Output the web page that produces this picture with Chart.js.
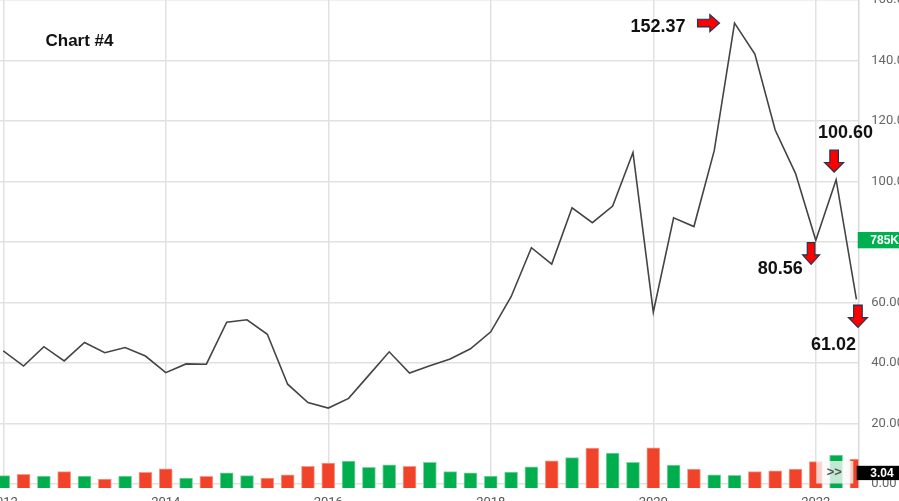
<!DOCTYPE html>
<html>
<head>
<meta charset="utf-8">
<script src="https://cdn.jsdelivr.net/npm/chart.js@4.4.1/dist/chart.umd.min.js"></script>
<style>
html, body { margin: 0; padding: 0; background: #fff; }
#wrap { width: 899px; height: 501px; }
</style>
</head>
<body>
<div id="wrap"><canvas id="priceChart" width="899" height="501"></canvas></div>
<script>
/*
 Chart #4 - quarterly close + volume
*/

var quarters = [
    '2012-Q1', '2012-Q2', '2012-Q3', '2012-Q4',
    '2013-Q1', '2013-Q2', '2013-Q3', '2013-Q4',
    '2014-Q1', '2014-Q2', '2014-Q3', '2014-Q4',
    '2015-Q1', '2015-Q2', '2015-Q3', '2015-Q4',
    '2016-Q1', '2016-Q2', '2016-Q3', '2016-Q4',
    '2017-Q1', '2017-Q2', '2017-Q3', '2017-Q4',
    '2018-Q1', '2018-Q2', '2018-Q3', '2018-Q4',
    '2019-Q1', '2019-Q2', '2019-Q3', '2019-Q4',
    '2020-Q1', '2020-Q2', '2020-Q3', '2020-Q4',
    '2021-Q1', '2021-Q2', '2021-Q3', '2021-Q4',
    '2022-Q1', '2022-Q2', '2022-Q3'
];

var closeValues = [
    44.0, 39.0, 45.4, 40.7, 46.8, 43.4, 45.1, 42.3,
    36.8, 39.7, 39.6, 53.5, 54.3, 49.5, 33.0, 26.9,
    25.1, 28.3, 36.0, 43.7, 36.7, 39.1, 41.3, 44.7,
    50.3, 61.9, 78.1, 72.7, 91.3, 86.4, 91.9, 109.6,
    56.8, 88.0, 85.1, 110.2, 152.37, 142.1, 117.0, 102.7,
    80.56, 100.60, 61.02
];

// volume, millions
var volumeValues = [
    1.29, 1.43, 1.26, 1.71, 1.26, 0.94, 1.26, 1.65,
    2.02, 1.05, 1.23, 1.60, 1.29, 1.05, 1.39, 2.27,
    2.62, 2.83, 2.17, 2.44, 2.27, 2.69, 1.71, 1.60,
    1.26, 1.68, 2.23, 2.86, 3.18, 4.19, 3.67, 2.69,
    4.22, 2.41, 1.99, 1.39, 1.33, 1.71, 1.81, 1.99,
    2.76, 3.46, 3.04
];

var yearTicks = [2012, 2014, 2016, 2018, 2020, 2022];
var priceTicks = [0, 20, 40, 60, 80, 100, 120, 140, 160];

// quarters that get a red arrow + value
var calloutIndexes = [36, 41, 40, 42];
var chartTitle = 'Chart #4';
var priceTag = '785K';

var RED = '#f0432a';
var GREEN = '#00ae4d';

function quarterToX(q) {
    var parts = q.split('-Q');
    return parseInt(parts[0], 10) + (parseInt(parts[1], 10) - 1) / 4;
}

var linePoints = quarters.map(function (q, i) {
    return { x: quarterToX(q), y: closeValues[i] };
});
var barPoints = quarters.map(function (q, i) {
    return { x: quarterToX(q), y: volumeValues[i] };
});
var barColors = closeValues.map(function (v, i) {
    if (i === 0) return GREEN;
    return v > closeValues[i - 1] ? GREEN : RED;
});
var barBorders = barColors.map(function (c) {
    return c === GREEN ? '#7fd3a3' : '#f79c8c';
});

function drawArrow(ctx, tx, ty, dir, len, wid) {
    var sw = wid * 0.45, hl = len * 0.44;
    ctx.beginPath();
    if (dir === 'down') {
        ctx.moveTo(tx, ty);
        ctx.lineTo(tx - wid / 2, ty - hl);
        ctx.lineTo(tx - sw / 2, ty - hl);
        ctx.lineTo(tx - sw / 2, ty - len);
        ctx.lineTo(tx + sw / 2, ty - len);
        ctx.lineTo(tx + sw / 2, ty - hl);
        ctx.lineTo(tx + wid / 2, ty - hl);
    } else {
        ctx.moveTo(tx, ty);
        ctx.lineTo(tx - hl, ty - wid / 2);
        ctx.lineTo(tx - hl, ty - sw / 2);
        ctx.lineTo(tx - len, ty - sw / 2);
        ctx.lineTo(tx - len, ty + sw / 2);
        ctx.lineTo(tx - hl, ty + sw / 2);
        ctx.lineTo(tx - hl, ty + wid / 2);
    }
    ctx.closePath();
    ctx.fillStyle = '#ff0000';
    ctx.fill();
    ctx.lineWidth = 1.2;
    ctx.strokeStyle = '#1d3557';
    ctx.stroke();
}

// arrow/text offsets from the data point, per callout
var calloutLayout = {
    36: { dir: 'right', ax: -15, ay: 0, len: 22, wid: 17, tx: -49, ty: 8.6, align: 'right' },
    41: { dir: 'down', ax: -2, ay: -7.5, len: 22, wid: 19, tx: 9.3, ty: -42, align: 'center' },
    40: { dir: 'down', ax: -4.7, ay: 24, len: 21.6, wid: 17, tx: -13, ty: 33.7, align: 'right' },
    42: { dir: 'down', ax: 1.5, ay: 28, len: 22.3, wid: 19, tx: -0.3, ty: 50.6, align: 'right' }
};

var annotatePlugin = {
    id: 'annotate',
    afterDatasetsDraw: function (chart) {
        var ctx = chart.ctx;
        var xs = chart.scales.x, ys = chart.scales.y;
        var area = chart.chartArea;
        ctx.save();

        // >> button
        ctx.fillStyle = 'rgba(250,250,250,0.78)';
        ctx.fillRect(area.right - 42, area.bottom - 27, 37, 22.5);
        ctx.fillStyle = '#555';
        ctx.font = 'bold 13px "Liberation Sans", Arial, sans-serif';
        ctx.textAlign = 'center';
        ctx.textBaseline = 'middle';
        ctx.fillText('>>', area.right - 24, area.bottom - 15.5);

        // right side tags
        var tagY = ys.getPixelForValue(closeValues[40]);
        ctx.fillStyle = '#00b050';
        ctx.fillRect(area.right - 0.6, tagY - 8.3, 60, 16.3);
        ctx.fillStyle = '#fff';
        ctx.font = 'bold 12px "Liberation Sans", Arial, sans-serif';
        ctx.textAlign = 'left';
        ctx.fillText(priceTag, area.right + 12, tagY + 0.5);

        var volY = area.bottom - 15;
        ctx.fillStyle = '#000';
        ctx.fillRect(area.right - 1.6, volY - 7.2, 60, 14.3);
        ctx.fillStyle = '#fff';
        ctx.fillText(volumeValues[volumeValues.length - 1].toFixed(2), area.right + 12, volY + 0.5);

        // title
        ctx.fillStyle = '#111';
        ctx.font = 'bold 17px "Liberation Sans", Arial, sans-serif';
        ctx.textAlign = 'left';
        ctx.textBaseline = 'alphabetic';
        ctx.fillText(chartTitle, 45.5, 46);

        // callouts
        calloutIndexes.forEach(function (idx) {
            var lay = calloutLayout[idx];
            var px = xs.getPixelForValue(linePoints[idx].x);
            var py = ys.getPixelForValue(closeValues[idx]);
            drawArrow(ctx, px + lay.ax, py + lay.ay, lay.dir, lay.len, lay.wid);
            ctx.fillStyle = '#111';
            ctx.font = 'bold 18px "Liberation Sans", Arial, sans-serif';
            ctx.textAlign = lay.align;
            ctx.textBaseline = 'alphabetic';
            ctx.fillText(closeValues[idx].toFixed(2), px + lay.tx, py + lay.ty);
        });
        ctx.restore();
    }
};

var ctx = document.getElementById('priceChart').getContext('2d');
var priceChart = new Chart(ctx, {
    data: {
        datasets: [{
            type: 'line',
            data: linePoints,
            yAxisID: 'y',
            borderColor: '#444',
            borderWidth: 1.6,
            pointRadius: 0,
            tension: 0,
            order: 1
        }, {
            type: 'bar',
            data: barPoints,
            yAxisID: 'y2',
            backgroundColor: barColors,
            borderColor: barBorders,
            borderWidth: 1,
            barThickness: 13,
            order: 2
        }]
    },
    options: {
        responsive: false,
        animation: false,
        layout: { padding: 0 },
        plugins: {
            legend: { display: false },
            tooltip: { enabled: false }
        },
        scales: {
            x: {
                type: 'linear',
                min: 2011.96,
                max: 2022.523,
                offset: false,
                afterBuildTicks: function (axis) {
                    axis.ticks = yearTicks.map(function (v) { return { value: v }; });
                },
                afterFit: function (axis) {
                    axis.height = 13;
                    axis.paddingLeft = 0;
                    axis.paddingRight = 0;
                },
                grid: { color: '#e1e1e1', lineWidth: 1.5, drawTicks: false, offset: false },
                border: { display: false },
                ticks: {
                    padding: 7,
                    color: '#555',
                    font: { family: 'Roboto', size: 13 },
                    maxRotation: 0,
                    callback: function (v) { return String(v); }
                }
            },
            y: {
                position: 'right',
                min: -1.32,
                max: 160,
                afterBuildTicks: function (axis) {
                    axis.ticks = priceTicks.map(function (v) { return { value: v }; });
                },
                afterFit: function (axis) {
                    axis.width = 40.7;
                    axis.paddingTop = 0;
                    axis.paddingBottom = 0;
                },
                grid: { color: '#e1e1e1', lineWidth: 1.5, drawTicks: false },
                border: { display: true, color: '#d9d9d9', width: 1.5 },
                ticks: {
                    padding: 13,
                    color: '#666',
                    font: { family: 'Roboto', size: 13 },
                    callback: function (v) { return v.toFixed(2); }
                }
            },
            y2: {
                display: false,
                min: 0,
                max: 51.15
            }
        }
    },
    plugins: [annotatePlugin]
});
</script>
</body>
</html>
